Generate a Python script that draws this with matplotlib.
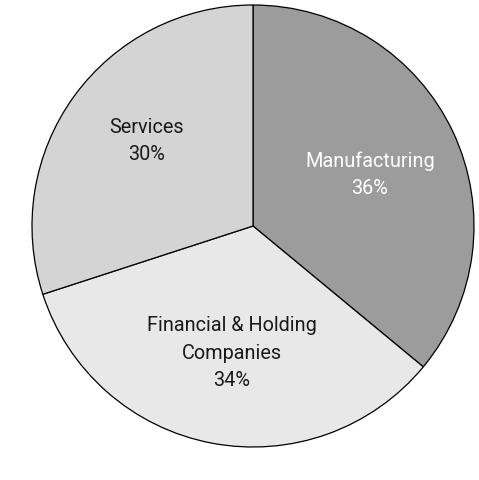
import matplotlib.pyplot as plt

categories = ["Manufacturing", "Financial & Holding\nCompanies", "Services"]
shares = [36, 34, 30]
colors = ["#9c9c9c", "#e8e8e8", "#d4d4d4"]
text_colors = ["white", "#1a1a1a", "#1a1a1a"]
# label centres in data units (pie radius = 1)
label_xy = [(0.529, 0.231), (-0.095, -0.575), (-0.48, 0.385)]

plt.rcParams["font.family"] = ["Roboto", "DejaVu Sans"]

fig = plt.figure(figsize=(4.79, 4.8), dpi=100)
ax = fig.add_axes([0, 0, 1, 1])

labels = [f"{c}\n{v}%" for c, v in zip(categories, shares)]
wedges, texts = ax.pie(
    shares,
    labels=labels,
    colors=colors,
    startangle=90,
    counterclock=False,
    labeldistance=0.6,
    wedgeprops=dict(edgecolor="black", linewidth=0.9),
    textprops=dict(ha="center", va="center", fontsize=14.3, linespacing=1.57),
)
for t, c, xy in zip(texts, text_colors, label_xy):
    t.set_color(c)
    t.set_position(xy)

# place circle centre at (253, 226) px with radius 221 px
ax.set_aspect("auto")
ax.set_xlim(-253 / 221, (479 - 253) / 221)
ax.set_ylim(-(480 - 226) / 221, 226 / 221)
ax.axis("off")

fig.savefig("out.png", dpi=100, facecolor="white")
